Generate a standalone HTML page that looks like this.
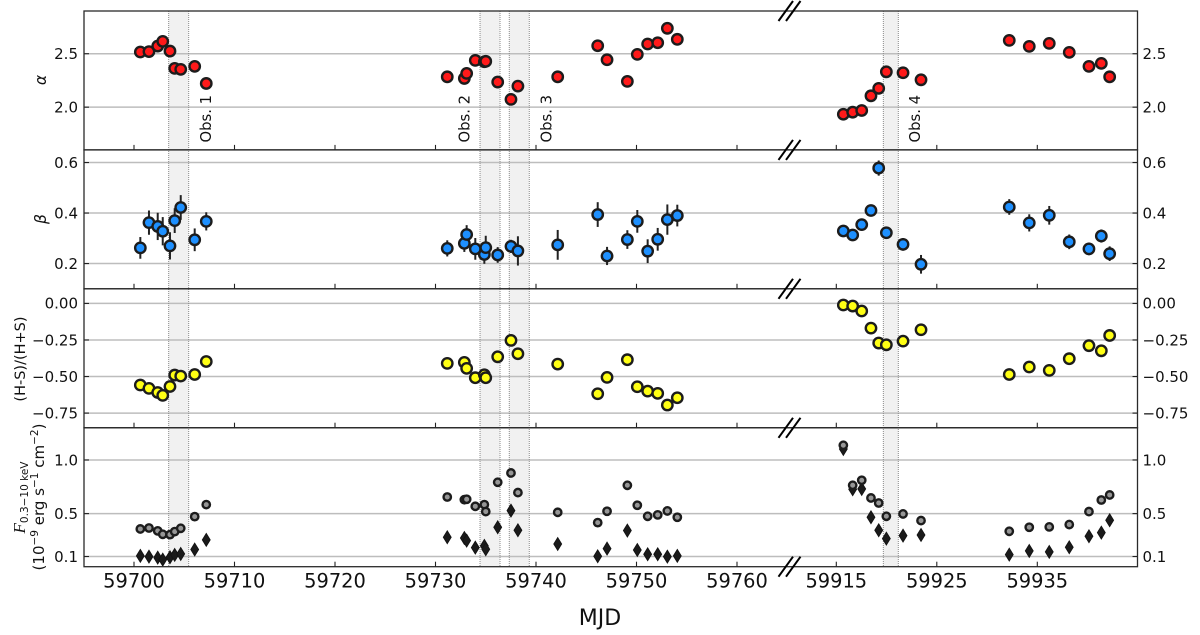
<!DOCTYPE html>
<html lang="en">
<head>
<meta charset="utf-8">
<title>Multi-panel MJD light curve</title>
<style>
html,body{margin:0;padding:0;background:#fff;}
#chart{display:block;width:1200px;height:635px;}
text{font-family:"DejaVu Sans","Liberation Sans",sans-serif;fill:#111;}
</style>
</head>
<body>
<svg id="chart" xmlns="http://www.w3.org/2000/svg" width="1200" height="635" viewBox="0 0 1200 635">
  <g id="shades"></g>
  <g id="grid"></g>
  <g id="marks"></g>
  <g id="axes"></g>

  <text transform="translate(211,142.5) rotate(-90)" font-size="14.8">Obs. 1</text>
  <text transform="translate(469.3,142.5) rotate(-90)" font-size="14.8">Obs. 2</text>
  <text transform="translate(551.7,142.5) rotate(-90)" font-size="14.8">Obs. 3</text>
  <text transform="translate(920,142.5) rotate(-90)" font-size="14.8">Obs. 4</text>

  <text transform="translate(46,80) rotate(-90)" font-size="15.5" font-style="italic" text-anchor="middle">α</text>
  <text transform="translate(46,219) rotate(-90)" font-size="15.5" font-style="italic" text-anchor="middle">β</text>
  <text transform="translate(25,359) rotate(-90)" font-size="14.5" text-anchor="middle">(H-S)/(H+S)</text>
  <text transform="translate(25,497.5) rotate(-90)" font-size="15" text-anchor="middle"><tspan font-family="Liberation Serif" font-style="italic" font-size="17">F</tspan><tspan font-size="10.5" dy="3">0.3−10 keV</tspan></text>
  <text transform="translate(44,497) rotate(-90)" font-size="15" text-anchor="middle">(10<tspan font-size="10.5" dy="-6">−9</tspan><tspan dy="6"> erg s</tspan><tspan font-size="10.5" dy="-6">−1</tspan><tspan dy="6"> cm</tspan><tspan font-size="10.5" dy="-6">−2</tspan><tspan dy="6">)</tspan></text>
  <text x="600" y="625" font-size="22" text-anchor="middle">MJD</text>
</svg>
<script>
// ---- data ----
const mjd = [59700.63,59701.49,59702.36,59702.86,59703.58,59704.05,59704.65,59706.04,59707.19,
  59731.17,59732.87,59733.10,59733.96,59734.86,59735.00,59736.19,59737.51,59738.20,59742.16,
  59746.14,59747.07,59749.09,59750.08,59751.11,59752.11,59753.07,59754.06,
  59915.70,59916.63,59917.53,59918.45,59919.22,59919.98,59921.64,59923.43,
  59932.21,59934.20,59936.19,59938.18,59940.14,59941.37,59942.20];
const alphaValues = [2.516,2.52,2.572,2.616,2.525,2.363,2.354,2.382,2.222,
  2.284,2.269,2.316,2.438,2.425,2.429,2.235,2.073,2.197,2.284,
  2.575,2.444,2.241,2.494,2.591,2.603,2.738,2.635,
  1.934,1.953,1.969,2.106,2.176,2.331,2.322,2.256,
  2.625,2.569,2.597,2.513,2.382,2.41,2.284];
const betaValues = [.262,.362,.347,.328,.27,.37,.422,.294,.367,
  .26,.28,.315,.258,.236,.263,.234,.268,.25,.274,
  .394,.23,.295,.367,.249,.296,.374,.39,
  .329,.313,.354,.41,.578,.322,.276,.197,
  .424,.361,.391,.286,.258,.309,.239];
const betaErrors = [.043,.048,.054,.056,.054,.049,.049,.045,.036,
  .032,.034,.037,.043,.037,.047,.031,.026,.058,.059,
  .049,.036,.037,.045,.047,.045,.06,.043,
  .015,.015,.015,.02,.03,.018,.025,.037,
  .031,.034,.037,.029,.025,.026,.029];
const hardnessValues = [-.558,-.581,-.609,-.629,-.568,-.49,-.497,-.486,-.397,
  -.41,-.403,-.444,-.508,-.488,-.508,-.365,-.253,-.344,-.415,
  -.618,-.506,-.385,-.57,-.6,-.615,-.695,-.645,
  -.011,-.018,-.052,-.169,-.271,-.283,-.258,-.18,
  -.486,-.435,-.458,-.378,-.289,-.324,-.219];
const fluxTotal = [.357,.366,.339,.307,.304,.332,.363,.472,.584,
  .655,.63,.634,.568,.584,.519,.792,.879,.696,.512,
  .416,.522,.764,.578,.475,.488,.525,.466,
  1.137,.764,.811,.646,.599,.475,.497,.435,
  .335,.373,.376,.398,.519,.627,.674];
const fluxSecondary = [.106,.099,.09,.071,.093,.115,.124,.165,.255,
  .28,.273,.248,.183,.199,.168,.373,.528,.345,.217,
  .102,.174,.342,.161,.121,.121,.099,.106,
  1.102,.727,.73,.466,.345,.267,.295,.301,
  .118,.152,.143,.186,.289,.323,.438];
const obsStart = [59703.45,59734.43,59737.34,59919.68];
const obsEnd = [59705.44,59736.42,59739.33,59921.17];
const xTicksLeft = [59700,59710,59720,59730,59740,59750,59760];
const xTicksRight = [59915,59925,59935];
const alphaTicks = [2.0,2.5];
const alphaTickLabels = ['2.0','2.5'];
const betaTicks = [0.2,0.4,0.6];
const betaTickLabels = ['0.2','0.4','0.6'];
const hardnessTicks = [0,-0.25,-0.5,-0.75];
const hardnessTickLabels = ['0.00','−0.25','−0.50','−0.75'];
const fluxTicks = [0.1,0.5,1.0];
const fluxTickLabels = ['0.1','0.5','1.0'];

// ---- layout and scales ----
const NS = 'http://www.w3.org/2000/svg';
const plotLeft = 84, plotRight = 1137.5;
const panelTops = [11,149.9,288.8,427.8];
const panelHeight = 138.9;
const figureBottom = 566.7;
const pxPerDay = 10.05;
function xScale(d){
  return d < 59800 ? 134 + (d - 59700) * pxPerDay : 836.3 + (d - 59915) * pxPerDay;
}
function yScale(panel, domain, v){
  return panelTops[panel] + (domain[1] - v) / (domain[1] - domain[0]) * panelHeight;
}
function make(parent, tag, attrs, label){
  const node = document.createElementNS(NS, tag);
  for (const k in attrs) node.setAttribute(k, attrs[k]);
  node.textContent = label === undefined ? '' : label;
  parent.appendChild(node);
  return node;
}
const shades = document.getElementById('shades');
const gridLayer = document.getElementById('grid');
const marks = document.getElementById('marks');
const axes = document.getElementById('axes');

const alphaDomain = [1.6,2.9];
const betaDomain = [0.1,0.65];
const hardnessDomain = [-0.85,0.1];
const fluxDomain = [0.005,1.3];

// ---- grid + y ticks ----
function drawYAxis(panel, domain, ticks, labels, name){
  ticks.forEach(function(t, i){
    const y = yScale(panel, domain, t);
    const g = make(gridLayer, 'line', {x1:plotLeft,x2:plotRight,y1:y,y2:y,stroke:'#bdbdbd','stroke-width':1.5});
    
    
    const a = make(axes, 'line', {x1:plotLeft,x2:plotLeft+5,y1:y,y2:y,stroke:'#222','stroke-width':1.1});
    
    
    const b = make(axes, 'line', {x1:plotRight-5,x2:plotRight,y1:y,y2:y,stroke:'#222','stroke-width':1.1});
    
    
    const l = make(axes, 'text', {x:78,y:y+5.3,'font-size':15,'text-anchor':'end'}, labels[i]);
    
    
    const r = make(axes, 'text', {x:1142.5,y:y+5.3,'font-size':15}, labels[i]);
    
    
  });
}
drawYAxis(0, alphaDomain, alphaTicks, alphaTickLabels, 'alpha');
drawYAxis(1, betaDomain, betaTicks, betaTickLabels, 'beta');
drawYAxis(2, hardnessDomain, hardnessTicks, hardnessTickLabels, 'hardness');
drawYAxis(3, fluxDomain, fluxTicks, fluxTickLabels, 'flux');

// ---- observation windows ----
obsStart.forEach(function(start, i){
  const x0 = xScale(start), x1 = xScale(obsEnd[i]);
  const r = make(shades, 'rect', {x:x0,y:panelTops[0],width:x1-x0,height:figureBottom-panelTops[0],fill:'#f1f1f1'});
  
  
  [x0,x1].forEach(function(x){
    const e = make(marks, 'line', {x1:x,x2:x,y1:panelTops[0],y2:figureBottom,stroke:'#8a8a8a','stroke-width':1,'stroke-dasharray':'1 1'});
    
    
  });
});

// ---- series ----
function drawCircles(panel, domain, values, fill, radius, width, name){
  values.forEach(function(v, i){
    const c = make(marks, 'circle', {cx:xScale(mjd[i]),cy:yScale(panel,domain,v),r:radius,fill:fill,stroke:'#1c1c1c','stroke-width':width});
    
    
  });
}
drawCircles(0, alphaDomain, alphaValues, '#ff1a1a', 5.2, 2.4, 'alpha-point');

betaValues.forEach(function(v, i){
  const x = xScale(mjd[i]);
  const e = make(marks, 'line', {x1:x,x2:x,y1:yScale(1,betaDomain,v+betaErrors[i]),y2:yScale(1,betaDomain,v-betaErrors[i]),stroke:'#222','stroke-width':2});
  
  
});
drawCircles(1, betaDomain, betaValues, '#1e90ff', 5.2, 2.4, 'beta-point');
drawCircles(2, hardnessDomain, hardnessValues, '#ffff14', 5.2, 2.4, 'hardness-point');

fluxSecondary.forEach(function(v, i){
  const cx = xScale(mjd[i]), cy = yScale(3, fluxDomain, v);
  const d = make(marks, 'path', {d:'M'+cx+' '+(cy-6.5)+'L'+(cx+4)+' '+cy+'L'+cx+' '+(cy+6.5)+'L'+(cx-4)+' '+cy+'Z',fill:'#1a1a1a',stroke:'#111','stroke-width':0.8});
  
  
});
drawCircles(3, fluxDomain, fluxTotal, '#969696', 3.7, 2.4, 'flux-point');

// ---- frames, x ticks, break marks ----
panelTops.forEach(function(top, p){
  const f = make(axes, 'rect', {x:plotLeft,y:top,width:plotRight-plotLeft,height:panelHeight,fill:'none',stroke:'#2a2a2a','stroke-width':1.3});
  
  
  xTicksLeft.concat(xTicksRight).forEach(function(t){
    const x = xScale(t);
    const m = make(axes, 'line', {x1:x,x2:x,y1:top+panelHeight-5,y2:top+panelHeight,stroke:'#222','stroke-width':1.1});
    
    
  });
});
xTicksLeft.concat(xTicksRight).forEach(function(t){
  const l = make(axes, 'text', {x:xScale(t),y:587.5,'font-size':19.4,'text-anchor':'middle'}, String(t));
  
  
});
panelTops.concat([figureBottom]).forEach(function(cy){
  [0,7.5].forEach(function(off){
    const s = make(axes, 'line', {x1:778.5+off,x2:793+off,y1:cy+10,y2:cy-10,stroke:'#000','stroke-width':2});
    
    
  });
});
</script>
</body>
</html>
